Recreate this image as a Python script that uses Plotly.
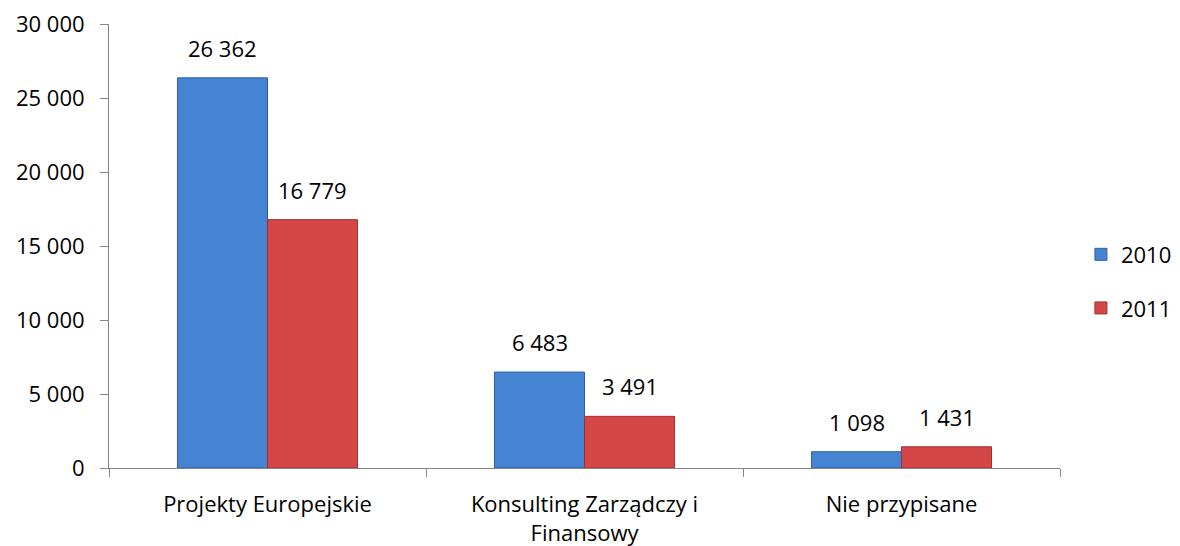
import plotly.graph_objects as go

categories = ["Projekty Europejskie", "Konsulting Zarządczy i<br>Finansowy", "Nie przypisane"]
values_2010 = [26362, 6483, 1098]
values_2011 = [16779, 3491, 1431]
series_names = ["2010", "2011"]
y_ticks = [0, 5000, 10000, 15000, 20000, 25000, 30000]

FONT = "Open Sans, Lato, sans-serif"


def fmt(v):
    return f"{v:,}".replace(",", " ")


fig = go.Figure()
fig.add_trace(go.Bar(
    x=categories, y=values_2010, name=series_names[0], legendgroup="a",
    marker=dict(color="#4584D3", line=dict(color="#2F5F9E", width=1)),
))
fig.add_trace(go.Bar(
    x=categories, y=values_2011, name=series_names[1], legendgroup="b",
    marker=dict(color="#D54646", line=dict(color="#9E2F2F", width=1)),
))

annotations = []
for vals, shift in ((values_2010, -45), (values_2011, 45)):
    for c, v in zip(categories, vals):
        annotations.append(dict(
            x=c, y=v, xref="x", yref="y", text=fmt(v), showarrow=False,
            xshift=shift, yshift=13, yanchor="bottom",
            font=dict(size=22, color="#000000", family=FONT),
        ))

# page body has an 8px margin; size the figure so the plot area lands where the reference has it
fig.update_layout(
    width=1172, height=538,
    margin=dict(l=101, r=120, t=16, b=78, autoexpand=False),
    paper_bgcolor="white", plot_bgcolor="white",
    barmode="group", bargap=0.432, bargroupgap=0,
    font=dict(family=FONT, size=22, color="#000000"),
    showlegend=True,
    legend=dict(x=1.022, y=0.42, yanchor="middle", xanchor="left",
                font=dict(size=22), itemwidth=30, tracegroupgap=22,
                bgcolor="rgba(0,0,0,0)"),
    annotations=annotations,
)
fig.update_xaxes(
    showline=True, linecolor="#868686", linewidth=1,
    ticks="outside", tickson="boundaries", ticklen=8, tickcolor="#868686",
    showgrid=False, tickfont=dict(size=22), automargin=False,
    ticklabelstandoff=17, ticklabeloverflow="allow",
)
fig.update_yaxes(
    range=[0, 30000], tickvals=y_ticks,
    ticktext=[fmt(v) for v in y_ticks],
    showline=True, linecolor="#868686", linewidth=1,
    ticks="outside", ticklen=8, tickcolor="#868686",
    showgrid=False, zeroline=False, tickfont=dict(size=22), automargin=False,
    ticklabelstandoff=11, ticklabeloverflow="allow",
)

fig.write_html("out.html")
